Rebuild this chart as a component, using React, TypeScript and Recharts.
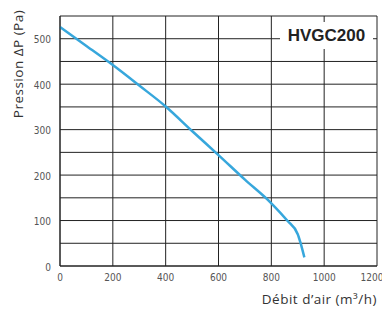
import { LineChart, Line, XAxis, YAxis, CartesianGrid, Label } from 'recharts';

// Débit (m³/h) vs pression (Pa)
const flow = [0, 100, 200, 300, 400, 500, 600, 700, 800, 860, 900, 910, 925];
const pressure = [526, 484, 442, 397, 351, 297, 244, 190, 138, 100, 70, 52, 19];

const xTicks = [0, 200, 400, 600, 800, 1000, 1200];
const yTicks = [0, 50, 100, 150, 200, 250, 300, 350, 400, 450, 500, 550];
const yLabelled = [0, 100, 200, 300, 400, 500];

const MODEL = 'HVGC200';
const X_TITLE = 'Débit d’air (m³/h)';
const Y_TITLE = 'Pression ΔP (Pa)';

const data = flow.map((q, i) => ({ q, p: pressure[i] }));

const tickFont = "'Liberation Sans Narrow', 'DejaVu Sans Condensed', 'Liberation Sans', sans-serif";
const titleFont = "'Open Sans', 'Noto Sans', sans-serif";
const gridColor = '#222';

function XTitle({ viewBox }: any) {
  return (
    <text
      x={viewBox.x + viewBox.width}
      y={viewBox.y + 38}
      textAnchor="end"
      fontFamily={titleFont}
      fontSize={13.5}
      letterSpacing={0.5}
      fill="#333"
    >
      {X_TITLE}
    </text>
  );
}

function YTitle({ viewBox }: any) {
  const x = viewBox.x + 22.5;
  const y = viewBox.y + 48;
  return (
    <text
      x={x}
      y={y}
      textAnchor="middle"
      transform={`rotate(-90, ${x}, ${y})`}
      fontFamily={titleFont}
      fontSize={13.5}
      letterSpacing={0.5}
      fill="#333"
    >
      {Y_TITLE}
    </text>
  );
}

export default function App() {
  return (
    <div style={{ position: 'absolute', left: 0, top: 0, width: 382, height: 309, background: '#fff' }}>
      <LineChart width={382} height={309} data={data} margin={{ top: 16, right: 5, bottom: 0, left: 0 }}>
        <CartesianGrid stroke={gridColor} strokeWidth={1} />
        <XAxis
          type="number"
          dataKey="q"
          domain={[0, 1200]}
          ticks={xTicks}
          height={43}
          tickSize={0}
          tickMargin={8}
          axisLine={{ stroke: gridColor }}
          tick={{ fontSize: 10, fill: '#555', fontFamily: tickFont }}
        >
          <Label content={<XTitle />} />
        </XAxis>
        <YAxis
          type="number"
          domain={[0, 550]}
          ticks={yTicks}
          width={60}
          tickSize={0}
          tickMargin={9}
          axisLine={{ stroke: gridColor }}
          tick={{ fontSize: 10, fill: '#555', fontFamily: tickFont, dy: 1 }}
          tickFormatter={(v: number) => (yLabelled.includes(v) ? String(v) : '')}
        >
          <Label content={<YTitle />} />
        </YAxis>
        <Line
          type="monotone"
          dataKey="p"
          stroke="#37a7dc"
          strokeWidth={2.5}
          dot={false}
          isAnimationActive={false}
        />
      </LineChart>
      <div
        style={{
          position: 'absolute',
          left: 280,
          top: 22,
          width: 93,
          height: 27,
          background: '#fff',
          textAlign: 'center',
          lineHeight: '27px',
          fontFamily: "'Liberation Sans', Arial, sans-serif",
          fontWeight: 700,
          fontSize: 17,
          color: '#222',
        }}
      >
        {MODEL}
      </div>
    </div>
  );
}
